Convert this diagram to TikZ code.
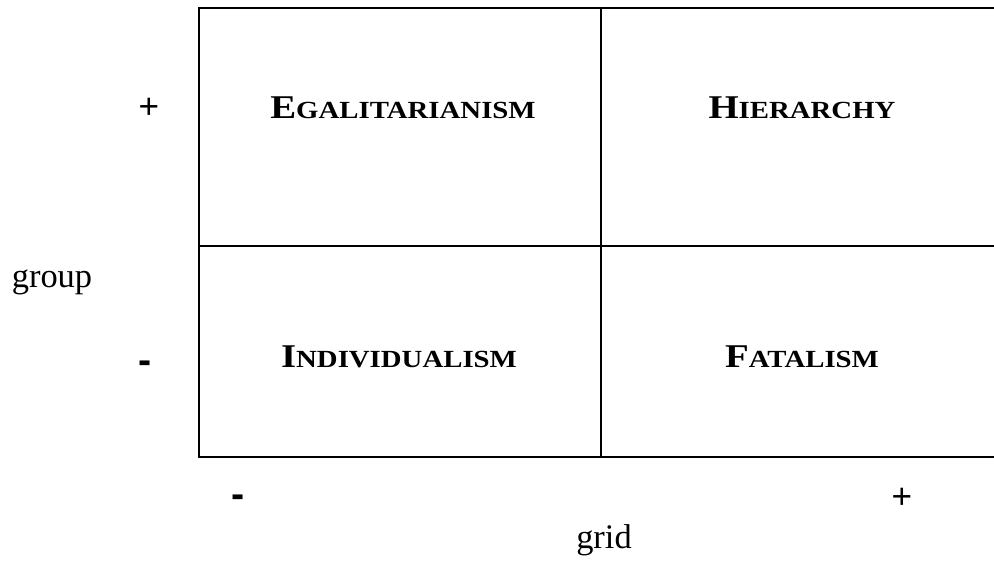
\documentclass[tikz,border=0pt]{standalone}
\usepackage{fontspec}
\setmainfont{Liberation Serif}
\newfontfamily\capsfont[FakeStretch=1.17]{Liberation Serif}
\newfontfamily\signfont{Liberation Sans}
\usepackage{tikz}
\usetikzlibrary{positioning}
\newcommand{\cellname}[2]{{\fontsize{23.6}{28}\selectfont #1}{\fontsize{17.5}{20}\selectfont #2}}

\begin{document}
\begin{tikzpicture}[x=0.025cm, y=-0.025cm,
  cell/.style={font=\capsfont\bfseries, anchor=base, inner sep=0pt},
  plus/.style={font=\signfont\fontsize{25}{29}\selectfont, anchor=base, inner sep=0pt},
  minus/.style={font=\signfont\bfseries\fontsize{28}{32}\selectfont, anchor=base, inner sep=0pt},
  axislabel/.style={font=\fontsize{24.5}{29}\selectfont, anchor=base, inner sep=0pt},
  gridline/.style={line width=1.4pt, black}
]
\useasboundingbox (0,0) rectangle (994,561);

% Frame corners
\coordinate (tl) at (199,8);
\coordinate (tm) at (601,8);
\coordinate (tr) at (994,8);
\coordinate (ml) at (199,246);
\coordinate (mr) at (994,246);
\coordinate (bl) at (199,457);
\coordinate (bm) at (601,457);
\coordinate (br) at (994,457);

\draw[gridline] (tr) -- (tl) -- (bl) -- (br);
\draw[gridline] (tm) -- (bm);
\draw[gridline] (ml) -- (mr);

% Quadrants
\node[cell] (egal) at (403,118) {\cellname{E}{GALITARIANISM}};
\node[cell] (hier) at (802,118) {\cellname{H}{IERARCHY}};
\node[cell] (indiv) at (399,367) {\cellname{I}{NDIVIDUALISM}};
\node[cell] (fatal) at (802,367) {\cellname{F}{ATALISM}};

% Axis labels
\node[plus] (gplus) at (149,118) {+};
\node[axislabel] (group) at (52,287) {group};
\node[minus] (gminus) at (145,373) {-};
\node[minus] (dminus) at (238,507) {-};
\node[plus] (dplus) at (902,508) {+};
\node[axislabel] (grid) at (604,548) {grid};

\end{tikzpicture}
\end{document}
